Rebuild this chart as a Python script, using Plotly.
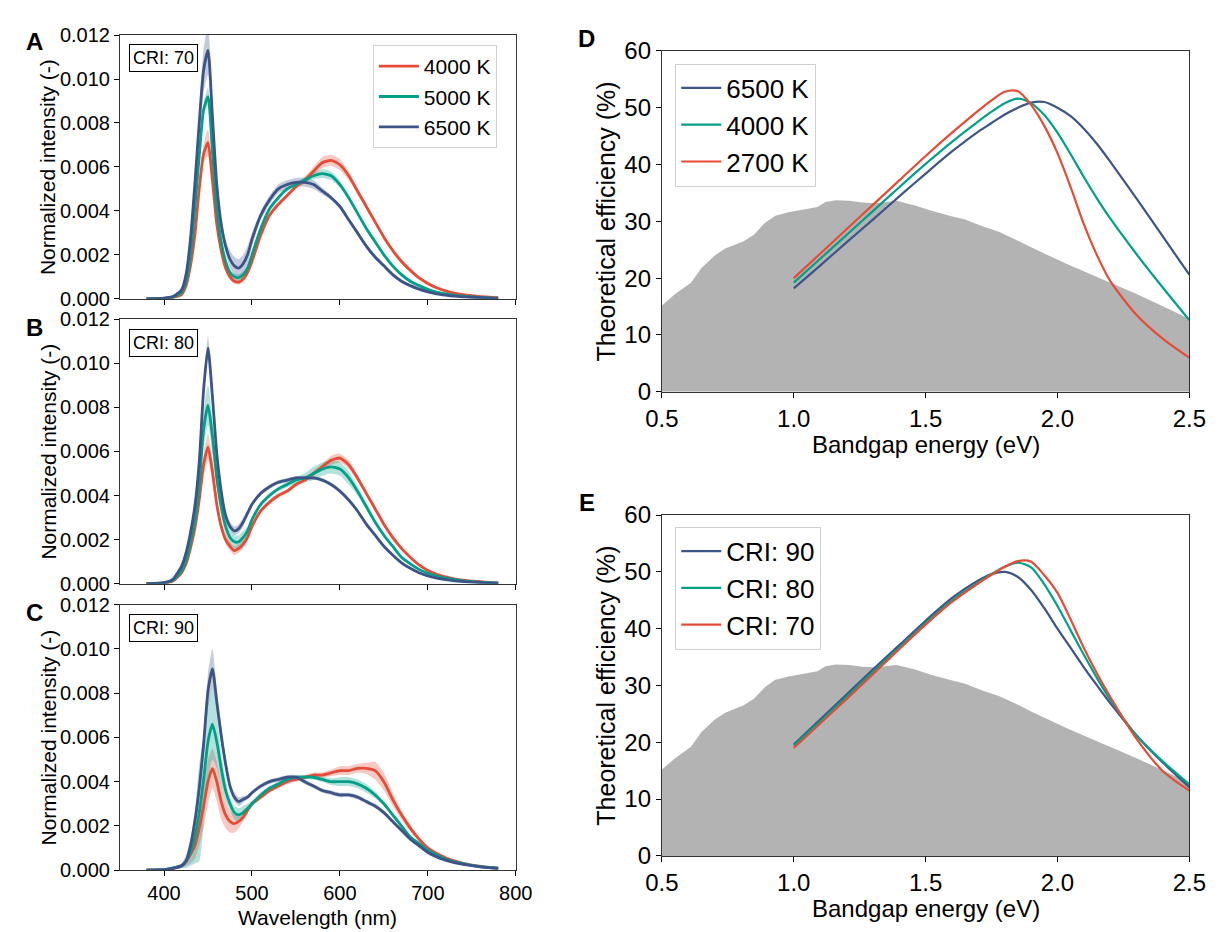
import plotly.graph_objects as go

# ---------------- data ----------------
wavelength = [380, 400, 410, 420, 425, 430, 435, 440, 445, 450, 455, 460, 465, 470, 475, 480, 485, 490, 495,
              500, 510, 520, 530, 540, 550, 560, 570, 580, 590, 600, 610, 620, 630, 640, 650, 660, 670, 680,
              690, 700, 710, 720, 730, 740, 750, 760, 770, 780]

# Panel A (CRI 70)
a_4000 = [0.0, 0.00002, 0.00006, 0.0002, 0.0006, 0.0015, 0.0029, 0.0050, 0.0066, 0.0071, 0.0054, 0.0034,
          0.0022, 0.0014, 0.0010, 0.0008, 0.00076, 0.0009, 0.0012,
          0.0017, 0.0029, 0.0038, 0.0043, 0.0047, 0.0051, 0.0054, 0.0058, 0.0062, 0.0063, 0.0061, 0.0056,
          0.0049, 0.0042, 0.0035, 0.0028, 0.0022, 0.0017, 0.0013, 0.00095, 0.0007, 0.0005, 0.00036, 0.00026,
          0.00019, 0.00014, 0.0001, 0.00007, 0.00005]
a_5000 = [0.0, 0.00002, 0.00007, 0.0003, 0.0008, 0.0020, 0.0041, 0.0065, 0.0086, 0.0092, 0.0067, 0.0041,
          0.0026, 0.0017, 0.0012, 0.0010, 0.00096, 0.0011, 0.0014,
          0.0020, 0.0032, 0.0041, 0.0046, 0.0050, 0.0052, 0.0054, 0.0056, 0.0057, 0.0056, 0.0052, 0.0046,
          0.0039, 0.0032, 0.0026, 0.0020, 0.0015, 0.0011, 0.0008, 0.0006, 0.00043, 0.0003, 0.00022, 0.00016,
          0.00012, 0.00009, 0.00006, 0.00004, 0.00003]
a_6500 = [0.0, 0.00003, 0.0001, 0.0004, 0.0011, 0.0027, 0.0052, 0.0080, 0.0104, 0.0113, 0.0083, 0.0052,
          0.0034, 0.0024, 0.0018, 0.0015, 0.0014, 0.0016, 0.0020,
          0.0027, 0.0038, 0.0045, 0.0050, 0.0052, 0.0053, 0.0053, 0.0052, 0.0049, 0.0046, 0.0042, 0.0036,
          0.0030, 0.0024, 0.0019, 0.0015, 0.0011, 0.0008, 0.0006, 0.00044, 0.00032, 0.00023, 0.00017, 0.00012,
          0.00009, 0.00007, 0.00005, 0.00003, 0.00002]
a_4000_sd = [0.00002, 0.00003, 0.00005, 0.0001, 0.0002, 0.0003, 0.0003, 0.0003, 0.0004, 0.0006, 0.0004, 0.00015,
             0.00012, 0.00012, 0.00012, 0.00012, 0.00012, 0.00012, 0.00012,
             0.00012, 0.0001, 0.0001, 0.0001, 0.0001, 0.0001, 0.00015, 0.0002, 0.00025, 0.00025, 0.00025, 0.0002,
             0.00015, 0.0001, 0.0001, 0.0001, 0.0001, 0.0001, 0.0001, 0.00008, 0.00008, 0.00006, 0.00005, 0.00004,
             0.00003, 0.00003, 0.00002, 0.00002, 0.00002]
a_5000_sd = [0.00002, 0.00003, 0.00005, 0.0001, 0.0002, 0.0002, 0.0003, 0.0003, 0.0003, 0.0004, 0.0003, 0.0002,
             0.00012, 0.0001, 0.00012, 0.00015, 0.00015, 0.00015, 0.00015,
             0.00012, 0.0001, 0.0001, 0.0001, 0.0001, 0.0001, 0.00012, 0.00015, 0.0002, 0.0002, 0.00015, 0.0001,
             0.0001, 0.0001, 0.0001, 0.00008, 0.00008, 0.00008, 0.00008, 0.00007, 0.00006, 0.00005, 0.00004,
             0.00003, 0.00003, 0.00002, 0.00002, 0.00002, 0.00002]
a_6500_sd = [0.00002, 0.00003, 0.00006, 0.00015, 0.0002, 0.0003, 0.0004, 0.0006, 0.0010, 0.0011, 0.0007, 0.0004,
             0.0003, 0.0003, 0.0004, 0.0004, 0.0004, 0.0004, 0.0004,
             0.0003, 0.0002, 0.0002, 0.0002, 0.0002, 0.0002, 0.0002, 0.0002, 0.00015, 0.0001, 0.0001, 0.0001,
             0.0001, 0.0001, 0.0001, 0.00008, 0.00008, 0.00006, 0.00005, 0.00005, 0.00004, 0.00003, 0.00003,
             0.00002, 0.00002, 0.00002, 0.00002, 0.00002, 0.00002]

# Panel B (CRI 80)
b_4000 = [0.0, 0.00003, 0.00012, 0.0005, 0.0009, 0.0016, 0.0025, 0.0038, 0.0054, 0.0062, 0.0051, 0.0036,
          0.0026, 0.0020, 0.0017, 0.0015, 0.0016, 0.0018, 0.0021,
          0.0026, 0.0033, 0.0037, 0.0040, 0.0042, 0.0045, 0.0047, 0.0050, 0.0053, 0.0056, 0.0057, 0.0054,
          0.0048, 0.0041, 0.0034, 0.0027, 0.0021, 0.0016, 0.0012, 0.00085, 0.0006, 0.00043, 0.00031, 0.00022,
          0.00016, 0.00012, 0.00009, 0.00006, 0.00004]
b_5000 = [0.0, 0.00004, 0.00015, 0.0006, 0.0011, 0.0019, 0.0029, 0.0045, 0.0070, 0.0081, 0.0067, 0.0048,
          0.0035, 0.0026, 0.0021, 0.0019, 0.0019, 0.0021, 0.0024,
          0.0029, 0.0036, 0.0040, 0.0043, 0.0045, 0.0047, 0.0048, 0.0050, 0.0052, 0.0053, 0.0052, 0.0048,
          0.0042, 0.0035, 0.0028, 0.0022, 0.0017, 0.0012, 0.0009, 0.00065, 0.00047, 0.00034, 0.00025, 0.00018,
          0.00013, 0.0001, 0.00007, 0.00005, 0.00003]
b_6500 = [0.0, 0.00005, 0.0002, 0.0008, 0.0014, 0.0023, 0.0035, 0.0055, 0.0088, 0.0107, 0.0085, 0.0059,
          0.0042, 0.0031, 0.0026, 0.0024, 0.0025, 0.0028, 0.0032,
          0.0036, 0.0041, 0.0044, 0.0046, 0.0047, 0.0048, 0.0048, 0.0048, 0.0047, 0.0045, 0.0042, 0.0038,
          0.0033, 0.0027, 0.0022, 0.0017, 0.0013, 0.00095, 0.0007, 0.0005, 0.00035, 0.00025, 0.00018, 0.00013,
          0.0001, 0.00007, 0.00005, 0.00003, 0.00002]
b_4000_sd = [0.00002, 0.00003, 0.00005, 0.0001, 0.0001, 0.0002, 0.0002, 0.0003, 0.0005, 0.0006, 0.0005, 0.0003,
             0.0002, 0.0002, 0.0002, 0.0002, 0.0002, 0.0002, 0.00015,
             0.0001, 0.0001, 0.0001, 0.0001, 0.0001, 0.0001, 0.0001, 0.00012, 0.00015, 0.0002, 0.0002, 0.0002,
             0.00015, 0.0001, 0.0001, 0.0001, 0.0001, 0.00008, 0.00006, 0.00005, 0.00004, 0.00003, 0.00003,
             0.00002, 0.00002, 0.00002, 0.00002, 0.00002, 0.00002]
b_5000_sd = [0.00002, 0.00003, 0.00005, 0.0001, 0.0001, 0.0002, 0.0003, 0.0005, 0.0008, 0.0009, 0.0008, 0.0005,
             0.0004, 0.0004, 0.0003, 0.0003, 0.0003, 0.0003, 0.0002,
             0.00015, 0.0001, 0.0001, 0.0001, 0.00012, 0.00015, 0.0002, 0.0003, 0.0003, 0.0003, 0.0003, 0.0003,
             0.0002, 0.00015, 0.0001, 0.0001, 0.00008, 0.00006, 0.00005, 0.00004, 0.00004, 0.00003, 0.00003,
             0.00002, 0.00002, 0.00002, 0.00002, 0.00002, 0.00002]
b_6500_sd = [0.00002, 0.00003, 0.00005, 0.0001, 0.0001, 0.0001, 0.0002, 0.0002, 0.0004, 0.0005, 0.0003, 0.0002,
             0.00015, 0.00015, 0.0002, 0.0002, 0.0002, 0.0002, 0.00015,
             0.0001, 0.0001, 0.0001, 0.0001, 0.0001, 0.00008, 0.00008, 0.00008, 0.00008, 0.00008, 0.00008, 0.00008,
             0.00008, 0.00008, 0.00006, 0.00006, 0.00005, 0.00004, 0.00003, 0.00003, 0.00002, 0.00002, 0.00002,
             0.00002, 0.00002, 0.00002, 0.00002, 0.00002, 0.00002]

# Panel C (CRI 90)
c_4000 = [0.0, 0.00002, 0.00008, 0.0002, 0.0004, 0.0007, 0.0011, 0.0019, 0.0029, 0.0040, 0.0046, 0.0040,
          0.0031, 0.0025, 0.0022, 0.0021, 0.0022, 0.0024, 0.0027,
          0.0030, 0.0033, 0.0036, 0.0038, 0.0040, 0.0041, 0.0042, 0.0043, 0.0043, 0.0044, 0.0045, 0.0045,
          0.0046, 0.0046, 0.0045, 0.0040, 0.0032, 0.0025, 0.0019, 0.0014, 0.0010, 0.00075, 0.00056, 0.00042,
          0.00031, 0.00023, 0.00017, 0.00012, 0.00009]
c_5000 = [0.0, 0.00002, 0.0001, 0.0002, 0.0004, 0.0008, 0.0015, 0.0026, 0.0041, 0.0058, 0.0066, 0.0058,
          0.0046, 0.0036, 0.0030, 0.0026, 0.0025, 0.0026, 0.0028,
          0.0030, 0.0034, 0.0037, 0.0039, 0.0041, 0.0042, 0.0042, 0.0042, 0.0041, 0.0040, 0.0040, 0.0040,
          0.0039, 0.0037, 0.0034, 0.0030, 0.0025, 0.0020, 0.0015, 0.0012, 0.0009, 0.00068, 0.0005, 0.00038,
          0.00029, 0.00022, 0.00016, 0.00012, 0.00009]
c_6500 = [0.0, 0.00002, 0.00008, 0.0002, 0.0004, 0.0011, 0.0022, 0.0037, 0.0057, 0.0081, 0.0091, 0.0076,
          0.0061, 0.0048, 0.0038, 0.0033, 0.0031, 0.0032, 0.0033,
          0.0035, 0.0038, 0.0040, 0.0041, 0.0042, 0.0042, 0.0040, 0.0038, 0.0036, 0.0035, 0.0034, 0.0034,
          0.0033, 0.0031, 0.0029, 0.0026, 0.0022, 0.0018, 0.0014, 0.0011, 0.0008, 0.0006, 0.00045, 0.00034,
          0.00026, 0.0002, 0.00015, 0.00011, 0.00008]
c_4000_sd = [0.00002, 0.00003, 0.00005, 0.0001, 0.0002, 0.0004, 0.0006, 0.0008, 0.0010, 0.0010, 0.0009, 0.0009,
             0.0008, 0.0006, 0.0005, 0.0004, 0.0003, 0.0002, 0.00015,
             0.0001, 0.0001, 0.0001, 0.0001, 0.0001, 0.0001, 0.0001, 0.0001, 0.00012, 0.00015, 0.0002, 0.0002,
             0.0002, 0.00025, 0.0004, 0.0004, 0.0003, 0.0002, 0.00015, 0.0001, 0.0001, 0.00008, 0.00006,
             0.00005, 0.00004, 0.00003, 0.00003, 0.00002, 0.00002]
c_5000_sd = [0.00002, 0.00003, 0.00005, 0.0001, 0.0003, 0.0006, 0.0012, 0.0022, 0.0020, 0.0017, 0.0016, 0.0012,
             0.0008, 0.0005, 0.0003, 0.0003, 0.0003, 0.0003, 0.0002,
             0.00015, 0.0001, 0.0001, 0.0001, 0.0001, 0.0001, 0.0001, 0.0001, 0.00012, 0.00015, 0.0002, 0.0002,
             0.0002, 0.0002, 0.00015, 0.0001, 0.0001, 0.0001, 0.00008, 0.00007, 0.00006, 0.00005, 0.00004,
             0.00003, 0.00003, 0.00002, 0.00002, 0.00002, 0.00002]
c_6500_sd = [0.00002, 0.00003, 0.00005, 0.0001, 0.0001, 0.0002, 0.0003, 0.0004, 0.0005, 0.0008, 0.0009, 0.0006,
             0.0004, 0.0003, 0.0002, 0.0002, 0.0002, 0.00015, 0.0001,
             0.0001, 0.0001, 0.0001, 0.0001, 0.0001, 0.0001, 0.0001, 0.0001, 0.0001, 0.0001, 0.0001, 0.0001,
             0.0001, 0.0001, 0.0001, 0.0001, 0.0001, 0.00008, 0.00006, 0.00005, 0.00005, 0.00004, 0.00004,
             0.00003, 0.00003, 0.00002, 0.00002, 0.00002, 0.00002]

# Panels D / E : theoretical efficiency vs bandgap
bandgap = [1.0, 1.1, 1.2, 1.3, 1.4, 1.5, 1.6, 1.7, 1.75, 1.8, 1.85, 1.9, 1.95, 2.0, 2.05, 2.1, 2.15, 2.2,
           2.3, 2.4, 2.5]
d_6500 = [18.2, 22.2, 26.3, 30.3, 34.4, 38.4, 42.3, 45.8, 47.3, 48.8, 50.0, 50.9, 51.0, 50.0, 48.5, 46.3,
          43.6, 40.5, 34.0, 27.3, 20.6]
d_4000 = [19.2, 23.4, 27.6, 31.8, 36.0, 40.1, 44.0, 47.6, 49.3, 50.8, 51.6, 50.8, 48.7, 45.6, 41.8, 37.8,
          34.0, 30.5, 24.2, 18.3, 12.6]
d_2700 = [20.0, 24.3, 28.6, 32.9, 37.2, 41.5, 45.6, 49.5, 51.3, 52.8, 52.9, 50.5, 46.8, 42.0, 36.0, 29.5,
          24.0, 19.5, 13.5, 9.3, 6.0]
e_cri90 = [19.6, 24.0, 28.4, 32.8, 37.1, 41.4, 45.4, 48.5, 49.6, 50.0, 49.1, 46.8, 43.6, 40.0, 36.6, 33.2,
           30.0, 26.9, 21.2, 16.4, 12.1]
e_cri80 = [19.4, 23.7, 28.0, 32.4, 36.7, 41.0, 45.0, 48.2, 49.6, 50.9, 51.6, 50.8, 47.8, 44.0, 39.7, 35.4,
           31.3, 27.5, 21.2, 16.6, 12.6]
e_cri70 = [19.0, 23.3, 27.6, 32.0, 36.4, 40.7, 44.7, 48.0, 49.5, 50.9, 51.9, 51.8, 49.4, 46.3, 41.6, 36.6,
           32.1, 28.0, 20.6, 14.9, 11.5]

sq_energy = [0.50, 0.55, 0.61, 0.65, 0.70, 0.74, 0.81, 0.85, 0.89, 0.93, 0.98, 1.03, 1.09, 1.12, 1.16,
             1.21, 1.26, 1.31, 1.39, 1.46, 1.52, 1.59, 1.65, 1.71, 1.78, 1.85, 1.91, 2.04, 2.17, 2.30,
             2.43, 2.50]
sq_eff = [15.2, 17.2, 19.2, 21.8, 24.0, 25.2, 26.5, 27.7, 29.7, 31.0, 31.6, 32.0, 32.5, 33.4, 33.7,
          33.6, 33.3, 33.2, 33.6, 32.8, 31.9, 31.0, 30.3, 29.2, 28.1, 26.6, 25.2, 22.4, 19.8, 17.2,
          14.4, 12.8]

for arr in [a_4000, a_5000, a_6500, a_4000_sd, a_5000_sd, a_6500_sd, b_4000, b_5000, b_6500, b_4000_sd,
            b_5000_sd, b_6500_sd, c_4000, c_5000, c_6500, c_4000_sd, c_5000_sd, c_6500_sd]:
    assert len(arr) == len(wavelength), len(arr)

# ---------------- styling ----------------
RED, GREEN, BLUE = "#E64B35", "#00A087", "#3C5488"
BAND = {RED: "rgba(230,75,53,0.30)", GREEN: "rgba(0,160,135,0.30)", BLUE: "rgba(60,84,136,0.30)"}
FONT = "Liberation Sans, Arial, sans-serif"
W, H = 1228, 932

fig = go.Figure()


def band(xa, ya, x, y, sd, color):
    up = [v + s for v, s in zip(y, sd)]
    lo = [max(v - s, 0) for v, s in zip(y, sd)]
    fig.add_trace(go.Scatter(x=x + x[::-1], y=up + lo[::-1], fill="toself", fillcolor=BAND[color],
                             mode="lines", line=dict(width=0, shape="spline", smoothing=0.6),
                             showlegend=False, hoverinfo="skip", xaxis=xa, yaxis=ya))


def spec_line(xa, ya, x, y, color, name, legend):
    fig.add_trace(go.Scatter(x=x, y=y, mode="lines", name=name,
                             line=dict(color=color, width=2.8, shape="spline", smoothing=0.6),
                             showlegend=legend, legend="legend", legendgroup=name,
                             xaxis=xa, yaxis=ya))


panels = [
    ("x", "y", [(a_4000, a_4000_sd, RED, "4000 K"), (a_5000, a_5000_sd, GREEN, "5000 K"), (a_6500, a_6500_sd, BLUE, "6500 K")], True),
    ("x2", "y2", [(b_4000, b_4000_sd, RED, "4000 K"), (b_5000, b_5000_sd, GREEN, "5000 K"), (b_6500, b_6500_sd, BLUE, "6500 K")], False),
    ("x3", "y3", [(c_4000, c_4000_sd, RED, "4000 K"), (c_5000, c_5000_sd, GREEN, "5000 K"), (c_6500, c_6500_sd, BLUE, "6500 K")], False),
]
for xa, ya, series, leg in panels:
    for y, sd, col, name in series:
        band(xa, ya, wavelength, y, sd, col)
    for y, sd, col, name in series:
        spec_line(xa, ya, wavelength, y, col, name, leg)

for xa, ya, series, lg in [("x4", "y4", [(d_6500, BLUE, "6500 K"), (d_4000, GREEN, "4000 K"), (d_2700, RED, "2700 K")], "legend2"),
                           ("x5", "y5", [(e_cri90, BLUE, "CRI: 90"), (e_cri80, GREEN, "CRI: 80"), (e_cri70, RED, "CRI: 70")], "legend3")]:
    fig.add_trace(go.Scatter(x=sq_energy, y=sq_eff, fill="tozeroy", fillcolor="#b3b3b3", mode="lines",
                             line=dict(width=0), showlegend=False, hoverinfo="skip", xaxis=xa, yaxis=ya))
    for y, col, name in series:
        fig.add_trace(go.Scatter(x=bandgap, y=y, mode="lines", name=name,
                                 line=dict(color=col, width=2.2, shape="spline", smoothing=0.8),
                                 legend=lg, legendgroup=lg + name, xaxis=xa, yaxis=ya))


def px_x(p):
    return p / W


def px_y(p):
    return 1 - p / H


axis_common = dict(showgrid=False, zeroline=False, ticks="outside", ticklen=5, tickwidth=1,
                   tickcolor="#000", linecolor="#333", linewidth=1.2, mirror=True,
                   tickfont=dict(family=FONT, size=20, color="#000"))

spec_x_dom = [px_x(106), px_x(513)]
spec_rows = [(21.7, 293.3), (314.3, 586.7), (608.3, 881.7)]
layout = dict(width=W, height=H, margin=dict(l=0, r=0, t=0, b=0),
              plot_bgcolor="white", paper_bgcolor="white", font=dict(family=FONT, color="#000"))
for i, (top, bot) in enumerate(spec_rows):
    sfx = "" if i == 0 else str(i + 1)
    layout["xaxis" + sfx] = dict(axis_common, domain=spec_x_dom, range=[350, 800], tickvals=[400, 500, 600, 700, 800],
                                 showticklabels=(i == 2), anchor="y" + sfx)
    layout["yaxis" + sfx] = dict(axis_common, domain=[px_y(bot), px_y(top)], range=[0, 0.012],
                                 tickvals=[0, 0.002, 0.004, 0.006, 0.008, 0.010, 0.012], tickformat=".3f",
                                 anchor="x" + sfx)

eff_x_dom = [px_x(663.3), px_x(1205.7)]
eff_common = dict(axis_common, tickfont=dict(family=FONT, size=24, color="#000"))
eff_rows = [("4", (38, 389)), ("5", (516, 867))]
for sfx, (top, bot) in eff_rows:
    layout["xaxis" + sfx] = dict(eff_common, domain=eff_x_dom, range=[0.5, 2.5], tickvals=[0.5, 1.0, 1.5, 2.0, 2.5],
                                 tickformat=".1f", anchor="y" + sfx)
    layout["yaxis" + sfx] = dict(eff_common, domain=[px_y(bot), px_y(top)], range=[0, 60], dtick=10,
                                 anchor="x" + sfx)

legend_common = dict(bgcolor="rgba(255,255,255,0.85)", bordercolor="#d0d0d0", borderwidth=1,
                     xanchor="left", yanchor="top", itemwidth=40, traceorder="normal")
layout["legend"] = dict(legend_common, x=px_x(366), y=px_y(32), font=dict(family=FONT, size=21),
                        tracegroupgap=3)
layout["legend2"] = dict(legend_common, x=px_x(677), y=px_y(51), font=dict(family=FONT, size=26),
                         tracegroupgap=3)
layout["legend3"] = dict(legend_common, x=px_x(677), y=px_y(528), font=dict(family=FONT, size=26),
                         tracegroupgap=3)

annotations = []
for lbl, x, y in [("A", 18, 28), ("B", 18, 323), ("C", 18, 616), ("D", 586, 25), ("E", 586, 503)]:
    annotations.append(dict(text="<b>%s</b>" % lbl, x=px_x(x), y=px_y(y), xref="paper", yref="paper",
                            showarrow=False, xanchor="center", yanchor="middle",
                            font=dict(family=FONT, size=24, color="#000")))
for txt, top in [("CRI: 70", 31), ("CRI: 80", 324), ("CRI: 90", 618)]:
    annotations.append(dict(text=txt, x=px_x(115), y=px_y(top), xref="paper", yref="paper", showarrow=False,
                            xanchor="left", yanchor="top", bordercolor="#000", borderwidth=1, borderpad=3,
                            bgcolor="white", font=dict(family=FONT, size=18, color="#000")))
for (top, bot) in spec_rows:
    annotations.append(dict(text="Normalized intensity (-)", x=px_x(32), y=px_y((top + bot) / 2), xref="paper",
                            yref="paper", showarrow=False, textangle=-90, xanchor="center", yanchor="middle",
                            font=dict(family=FONT, size=21, color="#000")))
annotations.append(dict(text="Wavelength (nm)", x=px_x(309.5), y=px_y(930), xref="paper", yref="paper",
                        showarrow=False, xanchor="center", yanchor="middle",
                        font=dict(family=FONT, size=21, color="#000")))
for sfx, (top, bot) in eff_rows:
    annotations.append(dict(text="Theoretical efficiency (%)", x=px_x(606), y=px_y((top + bot) / 2), xref="paper",
                            yref="paper", showarrow=False, textangle=-90, xanchor="center", yanchor="middle",
                            font=dict(family=FONT, size=25, color="#000")))
    annotations.append(dict(text="Bandgap energy (eV)", x=px_x(934.5), y=px_y(bot + 54), xref="paper",
                            yref="paper", showarrow=False, xanchor="center", yanchor="middle",
                            font=dict(family=FONT, size=24, color="#000")))
layout["annotations"] = annotations

fig.update_layout(**layout)
fig.write_html("out.html")
